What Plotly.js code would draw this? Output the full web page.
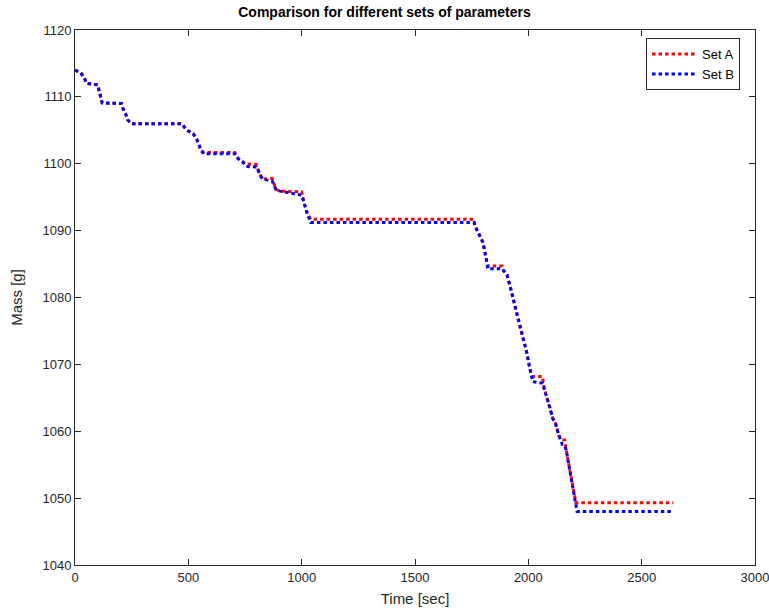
<!DOCTYPE html>
<html>
<head>
<meta charset="utf-8">
<script src="https://cdn.plot.ly/plotly-3.0.1.min.js"></script>
<style>html,body{margin:0;padding:0;background:#fff;}#chart{width:769px;height:610px;}</style>
</head>
<body>
<div id="chart"></div>
<script>
// Time samples [sec]
const timeSec = [0, 25, 40, 52, 100, 107, 113, 120, 205, 211, 223, 232, 247, 470, 494, 521, 535, 547, 555, 569,
  705, 719, 739, 756, 800, 814, 827, 870, 886, 905, 1000, 1012, 1025, 1040, 1760, 1766, 1778, 1789, 1799, 1805,
  1811, 1815, 1821, 1885, 1891, 1906, 1921, 1935, 1946, 1959, 1967, 1981, 1995, 2004, 2011, 2020, 2062, 2071,
  2078, 2094, 2101, 2108, 2120, 2127, 2134, 2150, 2160, 2167, 2181, 2195, 2203, 2210, 2215, 2640];
// Mass [g], Set A
const massA = [1114.0, 1113.6, 1112.9, 1112.0, 1111.8, 1110.7, 1109.9, 1109.1, 1109.0, 1108.3, 1107.5, 1106.6, 1106.0, 1106.0, 1105.0, 1104.5, 1103.8, 1102.9, 1102.0, 1101.7,
  1101.7, 1100.8, 1100.3, 1099.95, 1099.9, 1098.5, 1097.7, 1097.8, 1096.2, 1095.9, 1095.8, 1094.0, 1092.6, 1091.7, 1091.7, 1090.6, 1089.8, 1089.1, 1088.3, 1087.35,
  1086.5, 1085.6, 1084.7, 1084.7, 1084.0, 1083.4, 1081.5, 1079.6, 1077.9, 1076.0, 1075.1, 1073.4, 1071.5, 1069.8, 1068.8, 1068.2, 1068.2, 1066.3,
  1065.4, 1063.7, 1062.8, 1061.9, 1061.2, 1060.3, 1059.4, 1058.7, 1058.7, 1057.2, 1054.6, 1051.8, 1050.0, 1049.3, 1049.3, 1049.3];
// Mass [g], Set B
const massB = [1114.0, 1113.6, 1112.9, 1112.0, 1111.8, 1110.7, 1109.9, 1109.1, 1109.0, 1108.3, 1107.5, 1106.6, 1106.0, 1106.0, 1105.0, 1104.5, 1103.8, 1102.9, 1102.0, 1101.5,
  1101.5, 1100.8, 1100.3, 1099.6, 1099.5, 1098.5, 1097.7, 1097.4, 1096.2, 1095.9, 1095.3, 1094.0, 1092.5, 1091.2, 1091.2, 1090.6, 1089.8, 1089.1, 1088.3, 1087.35,
  1086.5, 1085.6, 1084.3, 1084.3, 1084.0, 1083.4, 1081.5, 1079.6, 1077.9, 1076.0, 1075.1, 1073.4, 1071.5, 1069.8, 1068.8, 1067.4, 1067.2, 1066.3,
  1065.4, 1063.7, 1062.8, 1061.9, 1061.2, 1060.3, 1059.4, 1058.0, 1057.8, 1057.2, 1054.6, 1051.8, 1050.0, 1049.0, 1048.0, 1048.0];
const seriesNames = ['Set A', 'Set B'];
const xTicks = [0, 500, 1000, 1500, 2000, 2500, 3000];
const yTicks = [1040, 1050, 1060, 1070, 1080, 1090, 1100, 1110, 1120];

const FONT = 'Liberation Sans, Arial, Helvetica, sans-serif';
const axisColor = '#262626';

const traces = [
  {x: timeSec, y: massA, name: seriesNames[0], type: 'scatter', mode: 'lines',
   line: {color: '#ff0000', width: 3, dash: '3.5px,3px'}},
  {x: timeSec, y: massB, name: seriesNames[1], type: 'scatter', mode: 'lines',
   line: {color: '#0000ff', width: 3, dash: '3.5px,3px'}}
];

const axisCommon = {
  showgrid: false, zeroline: false, showline: true, linecolor: axisColor, linewidth: 1,
  mirror: 'ticks', ticks: 'inside', ticklen: 6, tickwidth: 1, tickcolor: axisColor,
  ticklabeloverflow: 'allow',
  tickfont: {family: FONT, size: 13, color: axisColor}
};

const layout = {
  width: 769, height: 610,
  paper_bgcolor: '#ffffff', plot_bgcolor: '#ffffff',
  margin: {l: 75, r: 14, t: 30, b: 45},
  title: {text: '<b>Comparison for different sets of parameters</b>', font: {family: FONT, size: 14, color: '#000'},
          x: 0.5, xref: 'container', xanchor: 'center', y: 1 - 12/610, yref: 'container', yanchor: 'middle'},
  xaxis: Object.assign({}, axisCommon, {range: [0, 3000], tickvals: xTicks, ticktext: xTicks.map(String),
          title: {text: 'Time [sec]', font: {family: FONT, size: 15, color: axisColor}, standoff: 9}}),
  yaxis: Object.assign({}, axisCommon, {range: [1040, 1120], tickvals: yTicks, ticktext: yTicks.map(String),
          title: {text: 'Mass [g]', font: {family: FONT, size: 15, color: axisColor}, standoff: 16}}),
  showlegend: true,
  legend: {x: 0.978, y: 0.985, xanchor: 'right', yanchor: 'top', bgcolor: '#ffffff',
           bordercolor: '#262626', borderwidth: 1, font: {family: FONT, size: 13, color: '#000'},
           itemwidth: 45, tracegroupgap: 0}
};

Plotly.newPlot('chart', traces, layout, {displayModeBar: false, staticPlot: true});
</script>
</body>
</html>
